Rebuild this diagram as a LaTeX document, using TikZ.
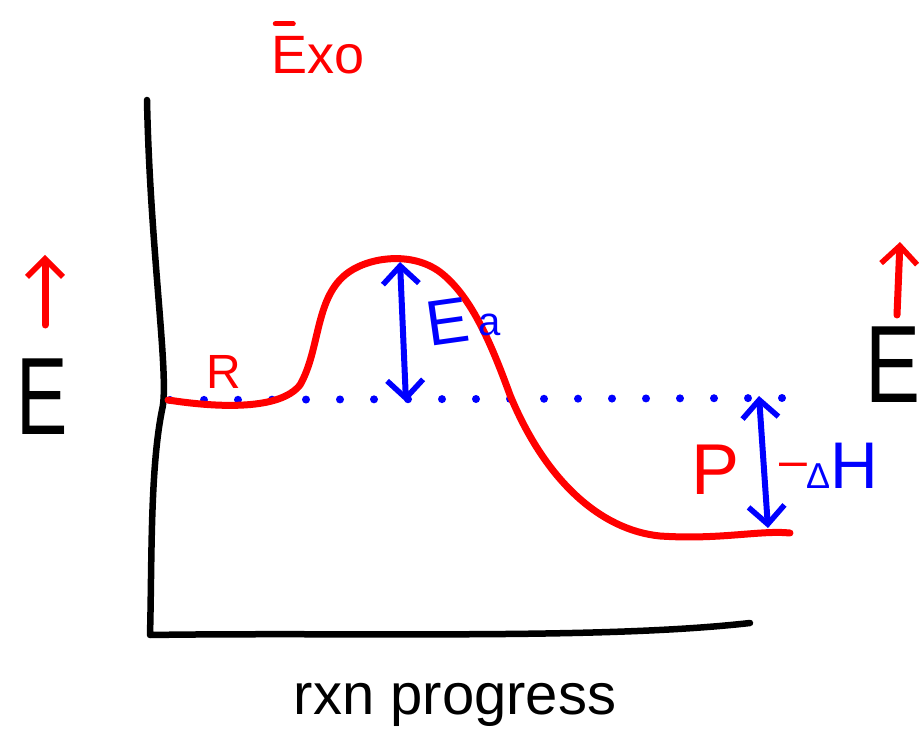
\documentclass[tikz,border=0pt]{standalone}
\usepackage{fontspec}
\setmainfont{Liberation Sans}
\usetikzlibrary{arrows.meta}
\definecolor{pen red}{RGB}{255,0,0}
\definecolor{pen blue}{RGB}{0,0,255}
\tikzset{
  ink/.style={line width=#1, line cap=round, line join=round},
  ink/.default=7pt,
  barb/.style={-{Straight Barb[length=18pt,width=36pt,line width=5.5pt]}},
  dbarb/.style={{Straight Barb[length=18pt,width=36pt,line width=5.5pt]}-{Straight Barb[length=18pt,width=36pt,line width=5.5pt]}},
  lbl/.style={inner sep=0pt, font=\fontsize{#1}{#1}\selectfont},
}
\begin{document}
\begin{tikzpicture}[x=1pt,y=-1pt]
\useasboundingbox (0,0) rectangle (919,754);
% axes
\coordinate (top) at (147,100);
\coordinate (origin) at (150,635);
\coordinate (xend) at (750,623);
\draw[ink=6.5pt] (top) .. controls (150,250) and (170,380) .. (162,410)
  .. controls (150,470) and (152,560) .. (origin)
  .. controls (350,632) and (600,640) .. (xend);
% dotted reference level
\coordinate (d0) at (170,400);
\coordinate (d1) at (786,398);
\draw[pen blue, line width=8pt, line cap=round, dash pattern=on 0pt off 34pt] (d0) -- (d1);
% energy curve
\coordinate (c0) at (168,400);
\coordinate (peak) at (392,258);
\coordinate (c1) at (790,533);
\draw[pen red, ink=7pt] (c0) .. controls (220,408) and (280,410) .. (300,385)
  .. controls (320,350) and (315,300) .. (345,275)
  .. controls (365,258) and (410,250) .. (440,272)
  .. controls (470,295) and (490,340) .. (510,395)
  .. controls (545,480) and (600,530) .. (660,536)
  .. controls (720,540) and (760,530) .. (c1);
% Ea arrow
\coordinate (ea0) at (400,262);
\coordinate (ea1) at (406,402);
\draw[pen blue, ink=6pt, dbarb] (ea0) -- (ea1);
\node[lbl=64, pen blue, rotate=8] (ea) at (448,322) {E};
\node[lbl=40, pen blue] (eaa) at (490,325) {a};
% dH arrow
\coordinate (h0) at (759,396);
\coordinate (h1) at (768,528);
\draw[pen blue, ink=6pt, dbarb] (h0) -- (h1);
\node[lbl=50, pen red] (minus) at (793,470) {–};
\node[lbl=66, pen blue, anchor=west] (dh) at (806,466) {{\fontsize{36}{36}\selectfont Δ}H};
% labels
\node[lbl=48, pen red] (R) at (224,372) {R};
\node[lbl=72, pen red] (P) at (716,470) {P};
\node[lbl=110, xscale=0.7] (Eleft) at (42,397) {E};
\node[lbl=110, xscale=0.75] (Eright) at (893,365) {E};
\coordinate (a0) at (45,325);
\coordinate (a1) at (45,255);
\draw[pen red, ink=7pt, barb] (a0) -- (a1);
\coordinate (b0) at (897,315);
\coordinate (b1) at (900,242);
\draw[pen red, ink=7pt, barb] (b0) -- (b1);
\node[lbl=54, pen red] (exo) at (318,55) {Exo};
\draw[pen red, ink=5pt] ([xshift=4pt,yshift=12pt]exo.north west) -- ++(18,0);
\node[lbl=58] (rxn) at (455,705) {rxn progress};
\end{tikzpicture}
\end{document}
